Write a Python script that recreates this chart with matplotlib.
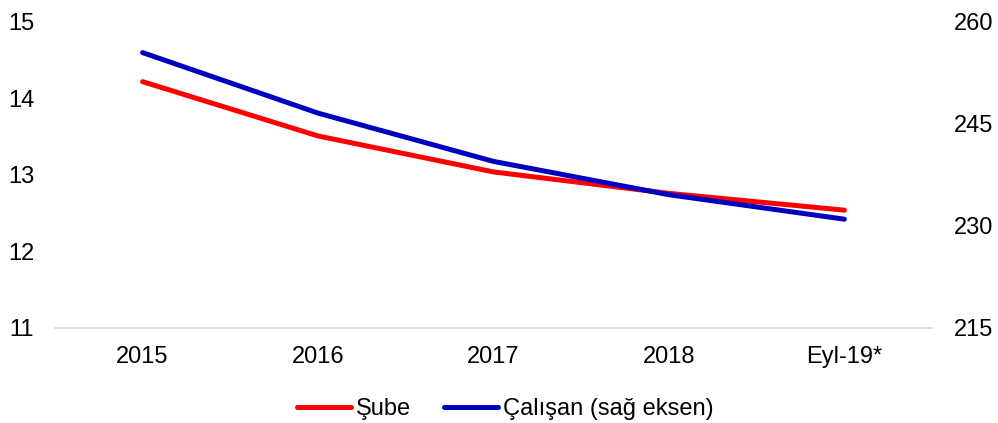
import matplotlib.pyplot as plt
from matplotlib.lines import Line2D

plt.rcParams['font.family'] = ['Liberation Sans', 'DejaVu Sans']

categories = ['2015', '2016', '2017', '2018', 'Eyl-19*']
sube = [14.22, 13.51, 13.04, 12.76, 12.54]
calisan = [255.5, 246.6, 239.5, 234.6, 231.0]
left_ticks = [11, 12, 13, 14, 15]
right_ticks = [215, 230, 245, 260]

fig = plt.figure(figsize=(9.98, 4.23), dpi=100)
ax = fig.add_axes([0.055, 0.2246, 0.879, 0.7234])
ax2 = ax.twinx()

x = range(len(categories))
ax.plot(x, sube, color='#ff0000', linewidth=3.6, solid_capstyle='round')
ax2.plot(x, calisan, color='#0000c0', linewidth=3.6, solid_capstyle='round')

ax.set_xlim(-0.5, len(categories) - 0.5)
ax.set_ylim(11, 15)
ax2.set_ylim(215, 260)
ax.set_yticks(left_ticks)
ax2.set_yticks(right_ticks)
ax.set_xticks(list(x))
ax.set_xticklabels(categories)

for a in (ax, ax2):
    for s in a.spines.values():
        s.set_visible(False)
    a.tick_params(length=0, labelsize=17, colors='black')
ax.spines['bottom'].set_visible(True)
ax.spines['bottom'].set_color('#d9d9d9')
ax.spines['bottom'].set_linewidth(1.2)
ax.tick_params(axis='y', pad=15)
ax.tick_params(axis='x', pad=13)
ax2.tick_params(axis='y', pad=16)

handles = [Line2D([], [], color='#ff0000', linewidth=3.6, solid_capstyle='round'),
           Line2D([], [], color='#0000c0', linewidth=3.6, solid_capstyle='round')]
fig.legend(handles, ['Şube', 'Çalışan (sağ eksen)'], loc='center',
           bbox_to_anchor=(0.506, 0.033), ncol=2, frameon=False, fontsize=17,
           handlelength=2.3, handletextpad=0.2, columnspacing=1.4)

fig.savefig('out.png', dpi=100)
